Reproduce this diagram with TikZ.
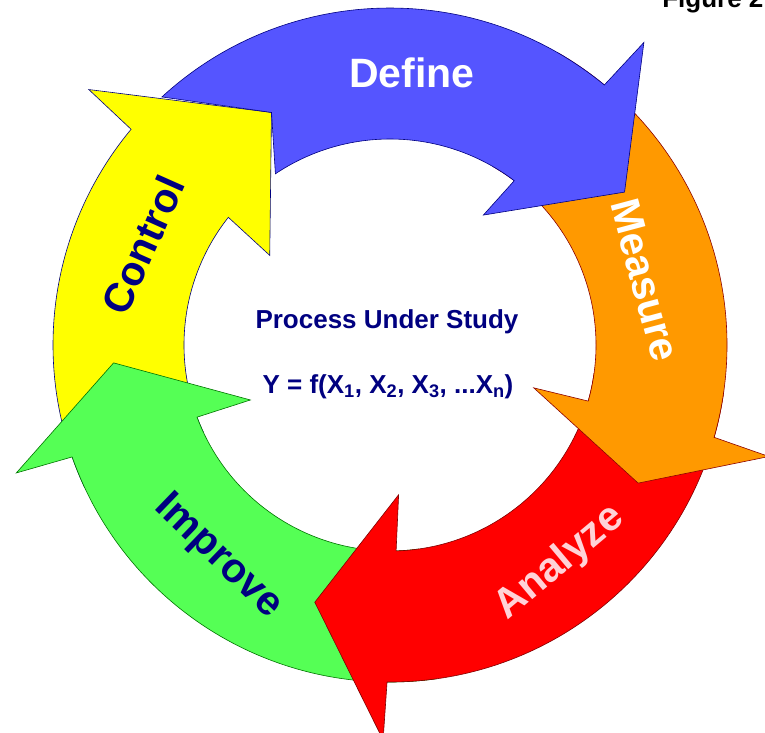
\documentclass[tikz,border=0pt]{standalone}
\usepackage{fontspec}
\setmainfont{Liberation Sans}
\definecolor{defineblue}{RGB}{85,85,255}
\definecolor{measureorange}{RGB}{255,153,0}
\definecolor{analyzered}{RGB}{255,0,0}
\definecolor{improvegreen}{RGB}{85,255,85}
\definecolor{controlyellow}{RGB}{255,255,0}
\definecolor{navy}{RGB}{0,0,128}
\definecolor{lightpink}{RGB}{255,210,215}
% #1 fill, #2 line, #3 tail, #4 outer notch, #5 inner notch, #6 inner barb, #7 tip angle, #8 tip radius
\newcommand{\cyclearrow}[8]{\filldraw[fill=#1,draw=#2,line width=0.6pt] (#3:337pt) arc[start angle=#3,end angle=#4,radius=337pt] -- (#4-0.5:395pt) -- (#7:#8pt) -- (#6:150pt) -- (#5:206pt) arc[start angle=#5,end angle=#3,radius=206pt] -- cycle;}
\tikzset{ringlbl/.style={font=\bfseries\fontsize{41}{41}\selectfont},
  centerlbl/.style={font=\bfseries\fontsize{26}{26}\selectfont,text=navy}}

\begin{document}
\begin{tikzpicture}[x=1pt,y=1pt]
    \useasboundingbox (-390,-387) rectangle (375,345);
    \coordinate (ctip) at (117:261pt);
    \cyclearrow{controlyellow}{navy}{205}{140.2}{141.7}{143.3}{117}{261}
    \cyclearrow{improvegreen}{green!45!black}{-82}{-160.6}{-159.5}{-158.5}{-176.3}{277}
    \cyclearrow{analyzered}{red!50!black}{-8}{-90.5}{-88.3}{-86.7}{-106.3}{268}
    \cyclearrow{measureorange}{red!55!black}{60}{-15.9}{-15.8}{-16.6}{-29.1}{284}
    \filldraw[fill=defineblue,draw=navy,line width=0.6pt] (132.6:337pt) arc[start angle=132.6,end angle=50.5,radius=337pt]
        -- (50:395pt) -- (33.1:280pt) -- (54.3:160pt) -- (52.9:206pt)
        arc[start angle=52.9,end angle=123.8,radius=206pt] -- (ctip) -- cycle;
    \node[ringlbl,text=white] (define) at (22,272) {Define};
    \node[ringlbl,text=white,rotate=-75] (measure) at (255,65) {Measure};
    \node[ringlbl,text=lightpink,rotate=40] (analyze) at (170,-218) {Analyze};
    \node[ringlbl,text=navy,rotate=-44] (improve) at (-172,-212) {Improve};
    \node[ringlbl,text=navy,rotate=66] (control) at (-247,100) {Control};
    \node[centerlbl] (process) at (-3,23) {Process Under Study};
    \node[centerlbl] (formula) at (-2,-42) {Y = f(X\textsubscript{1}, X\textsubscript{2}, X\textsubscript{3}, ...X\textsubscript{n})};
    \node[anchor=base east,font=\bfseries\fontsize{26}{26}\selectfont] (figure) at (377,338) {Figure 2};
\end{tikzpicture}
\end{document}
